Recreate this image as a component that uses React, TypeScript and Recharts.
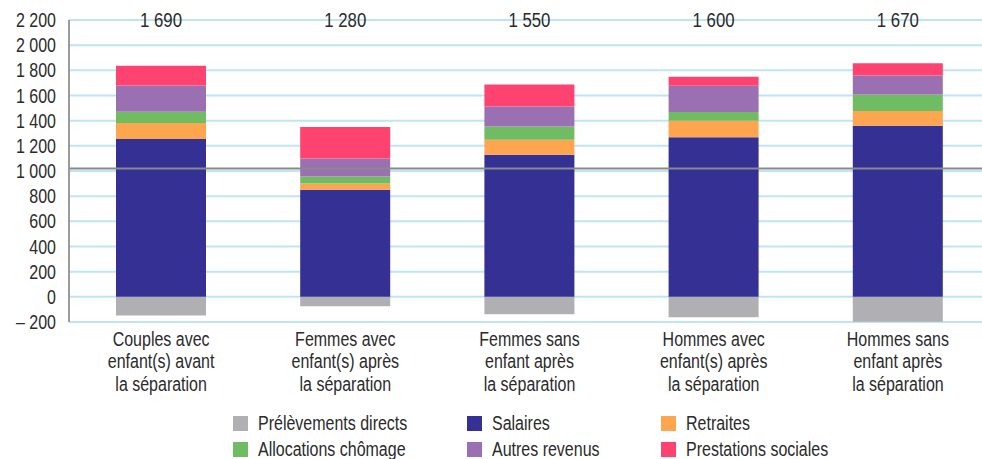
import React from 'react';
import { BarChart, Bar, XAxis, YAxis, CartesianGrid, ReferenceLine, LabelList } from 'recharts';

const categories = [
  'Couples avec\nenfant(s) avant\nla séparation',
  'Femmes avec\nenfant(s) après\nla séparation',
  'Femmes sans\nenfant après\nla séparation',
  'Hommes avec\nenfant(s) après\nla séparation',
  'Hommes sans\nenfant après\nla séparation',
];
const prelevements = [-149, -74, -138, -162, -199];
const salaires = [1254, 851, 1129, 1269, 1359];
const retraites = [127, 50, 119, 130, 117];
const chomage = [90, 56, 106, 69, 132];
const autres = [209, 143, 159, 209, 151];
const prestations = [156, 249, 175, 72, 98];
const totals = [1690, 1280, 1550, 1600, 1670];
const yTicks = [-200, 0, 200, 400, 600, 800, 1000, 1200, 1400, 1600, 1800, 2000, 2200];
const seuil = 1020;

const series = [
  { key: 'prelevements', name: 'Prélèvements directs', color: '#b0b0b2' },
  { key: 'salaires', name: 'Salaires', color: '#353094' },
  { key: 'retraites', name: 'Retraites', color: '#fea550' },
  { key: 'chomage', name: 'Allocations chômage', color: '#70bc63' },
  { key: 'autres', name: 'Autres revenus', color: '#9b70b3' },
  { key: 'prestations', name: 'Prestations sociales', color: '#fe4370' },
];

const legendOrder = [
  ['prelevements', 'salaires', 'retraites'],
  ['chomage', 'autres', 'prestations'],
];

const data = categories.map((c, i) => ({
  name: c,
  prelevements: prelevements[i],
  salaires: salaires[i],
  retraites: retraites[i],
  chomage: chomage[i],
  autres: autres[i],
  prestations: prestations[i],
  total: totals[i],
}));

// no Arial Narrow here: Liberation Sans squeezed horizontally
const FONT = "'Liberation Sans', Arial, sans-serif";
const SQUEEZE = 0.82;
const TEXT = '#2b2b2b';

const fmt = (v: number) => {
  const s = Math.abs(v).toString().replace(/\B(?=(\d{3})+(?!\d))/g, ' ');
  return v < 0 ? '\u2013 ' + s : s;
};

const CategoryTick = (props: any) => {
  const { x, y, payload } = props;
  const lines = String(payload.value).split('\n');
  return (
    <g transform={`translate(${x},${y}) scale(${SQUEEZE},1)`}>
      <text x={0} y={0} textAnchor="middle" fill={TEXT} fontSize={19.5} fontFamily={FONT}>
        {lines.map((l, i) => (
          <tspan key={i} x={0} dy={i === 0 ? 24 : 22.5}>{l}</tspan>
        ))}
      </text>
    </g>
  );
};

const ValueTick = (props: any) => {
  const { x, y, payload } = props;
  return (
    <g transform={`translate(${x},${y}) scale(${SQUEEZE},1)`}>
      <text x={0} y={0} dy="0.36em" textAnchor="end" fill={TEXT} fontSize={19.5} fontFamily={FONT}>
        {fmt(payload.value)}
      </text>
    </g>
  );
};

const TotalLabel = (props: any) => {
  const { x, width, value } = props;
  return (
    <g transform={`translate(${x + width / 2},20) scale(${SQUEEZE},1)`}>
      <text x={0} y={0} dy={7} textAnchor="middle" fill={TEXT} fontSize={20.5} fontFamily={FONT}>
        {fmt(value)}
      </text>
    </g>
  );
};

const legendX = [233, 467, 661];
const legendY = [415, 441];

export default function App() {
  return (
    <div style={{ position: 'absolute', left: 0, top: 0, width: 982, height: 459, overflow: 'hidden', background: '#fff' }}>
      <BarChart
        width={990}
        height={459}
        data={data}
        stackOffset="sign"
        margin={{ top: 20, right: 0, bottom: 67, left: 0 }}
        barSize={90}
      >
        <CartesianGrid vertical={false} stroke="#bfe4f5" strokeWidth={2} />
        <XAxis dataKey="name" axisLine={false} tickLine={false} tickSize={0} tickMargin={0} height={70} interval={0} tick={<CategoryTick />} />
        <YAxis
          domain={[-200, 2200]}
          ticks={yTicks}
          width={69}
          axisLine={{ stroke: '#9a9a9a', strokeWidth: 2 }}
          tickLine={false}
          tickSize={0}
          tickMargin={13}
          tick={<ValueTick />}
          interval={0}
        />
        {series.map((s) => (
          <Bar key={s.key} dataKey={s.key} stackId="a" fill={s.color} isAnimationActive={false}>
            {s.key === 'prestations' && <LabelList dataKey="total" content={<TotalLabel />} />}
          </Bar>
        ))}
        <ReferenceLine y={seuil} stroke="#8a8a8a" strokeWidth={2} />
      </BarChart>
      {legendOrder.map((row, r) =>
        row.map((k, c) => {
          const s = series.find((x) => x.key === k)!;
          return (
            <div
              key={k}
              style={{
                position: 'absolute',
                left: legendX[c],
                top: legendY[r],
                display: 'flex',
                alignItems: 'center',
                fontFamily: FONT,
                fontSize: 19.5,
                color: TEXT,
                lineHeight: '16px',
                whiteSpace: 'nowrap',
              }}
            >
              <span style={{ display: 'inline-block', width: 15, height: 15, background: s.color, marginRight: 10 }} />
              <span style={{ display: 'inline-block', transform: `scaleX(${SQUEEZE})`, transformOrigin: 'left center' }}>{s.name}</span>
            </div>
          );
        })
      )}
    </div>
  );
}
